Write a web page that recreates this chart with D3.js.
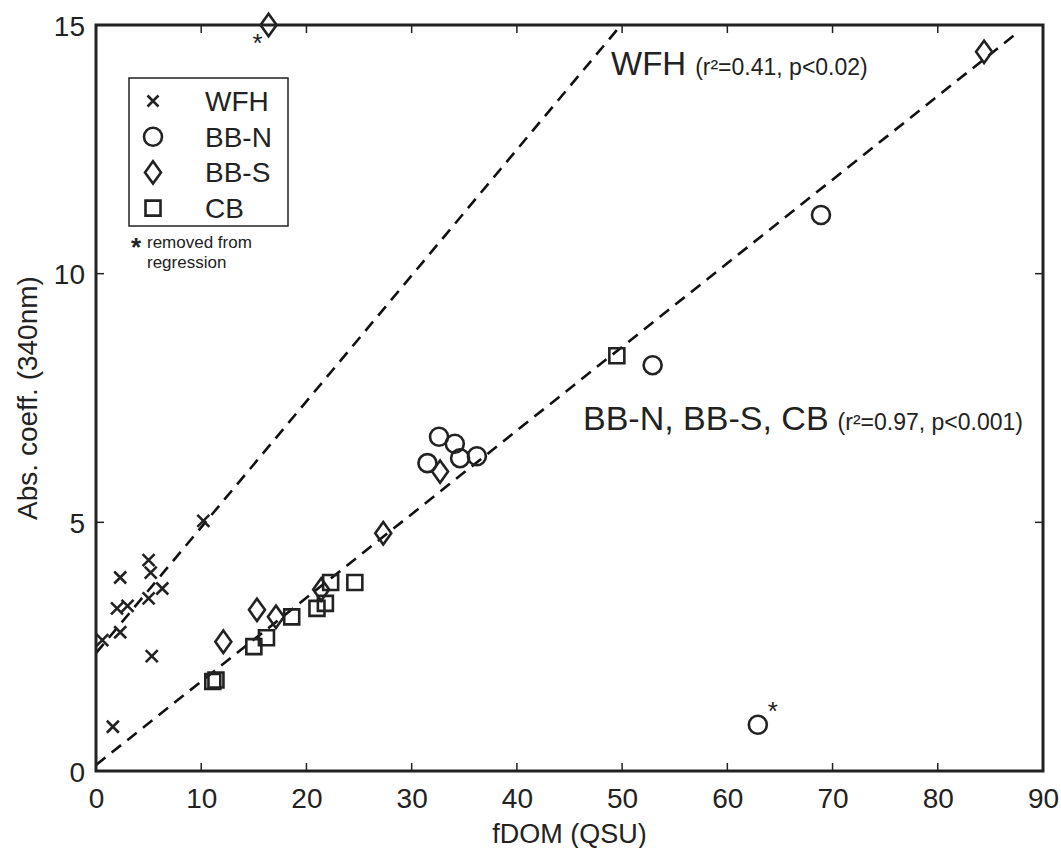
<!DOCTYPE html>
<html>
<head>
<meta charset="utf-8">
<script src="https://cdn.jsdelivr.net/npm/d3@7"></script>
<style>
  body { margin: 0; background: #fff; }
  svg { display: block; font-family: "Liberation Sans", Arial, Helvetica, sans-serif; }
</style>
</head>
<body>
<script>
// Данные (fDOM, Abs. coeff.)
const wfhX = [0.6, 1.6, 2.3, 2.3, 2.0, 3.0, 5.0, 5.2, 5.0, 6.3, 5.3, 10.2];
const wfhY = [2.63, 0.89, 2.79, 3.89, 3.27, 3.32, 4.24, 3.99, 3.47, 3.67, 2.31, 5.03];

const bbnX = [32.6, 34.1, 31.5, 34.6, 36.2, 52.9, 68.9, 62.9];
const bbnY = [6.72, 6.58, 6.19, 6.29, 6.33, 8.16, 11.18, 0.93];

const bbsX = [16.4, 84.4, 32.7, 27.3, 15.3, 17.1, 12.1, 21.4];
const bbsY = [15.0, 14.46, 6.02, 4.78, 3.24, 3.10, 2.60, 3.65];

const cbX = [49.5, 22.3, 24.6, 21.0, 21.8, 18.6, 16.2, 15.0, 11.4, 11.1];
const cbY = [8.35, 3.79, 3.79, 3.27, 3.37, 3.10, 2.68, 2.50, 1.83, 1.80];

// точки, исключённые из регрессии (помечены звёздочкой)
const removedX = [16.4, 62.9];
const removedY = [15.0, 0.93];

// линии регрессии: [x0, y0, x1, y1]
const wfhFit = [0, 2.37, 49.9, 15.0];
const bbFit = [0, 0.12, 87.3, 14.8];

const xTicks = [0, 10, 20, 30, 40, 50, 60, 70, 80, 90];
const yTicks = [0, 5, 10, 15];

const legendNames = ["WFH", "BB-N", "BB-S", "CB"];

const width = 1061;
const height = 848;
const margin = { top: 25, right: 18, bottom: 77, left: 96 };
const plotW = width - margin.left - margin.right;
const plotH = height - margin.top - margin.bottom;

const svg = d3.select("body").append("svg").attr("width", width).attr("height", height);

const x = d3.scaleLinear().domain([0, 90]).range([margin.left, margin.left + plotW]);
const y = d3.scaleLinear().domain([0, 15]).range([margin.top + plotH, margin.top]);

// формы маркеров
const shapes = {
  cross: (s) => `M${-s},${-s}L${s},${s}M${-s},${s}L${s},${-s}`,
  circle: (r) => `M${r},0A${r},${r} 0 1,1 ${-r},0A${r},${r} 0 1,1 ${r},0Z`,
  diamond: (s) => `M0,${-s * 1.4}L${s},0L0,${s * 1.4}L${-s},0Z`,
  square: (s) => `M${-s},${-s}H${s}V${s}H${-s}Z`,
};

const seriesList = [
  { xs: wfhX, ys: wfhY, path: shapes.cross(6) },
  { xs: bbnX, ys: bbnY, path: shapes.circle(9) },
  { xs: bbsX, ys: bbsY, path: shapes.diamond(8) },
  { xs: cbX, ys: cbY, path: shapes.square(7.5) },
];

svg.append("clipPath").attr("id", "clip")
  .append("rect")
  .attr("x", margin.left).attr("y", margin.top)
  .attr("width", plotW).attr("height", plotH);

// Линии регрессии (пунктир)
[wfhFit, bbFit].forEach((f) => {
  svg.append("line")
    .attr("clip-path", "url(#clip)")
    .attr("x1", x(f[0])).attr("y1", y(f[1]))
    .attr("x2", x(f[2])).attr("y2", y(f[3]))
    .attr("stroke", "#111")
    .attr("stroke-width", 2.6)
    .attr("stroke-dasharray", "12,8");
});

// Точки
seriesList.forEach((s) => {
  svg.append("g")
    .selectAll("path")
    .data(s.xs.map((v, i) => [v, s.ys[i]]))
    .enter()
    .append("path")
    .attr("transform", (d) => `translate(${x(d[0])},${y(d[1])})`)
    .attr("d", s.path)
    .attr("fill", "none")
    .attr("stroke", "#222")
    .attr("stroke-width", 2.6);
});

// звёздочки у исключённых точек
const starOffsets = [[-11, 27], [15, -5]];
svg.append("g")
  .selectAll("text")
  .data(removedX.map((v, i) => [v, removedY[i]]))
  .enter()
  .append("text")
  .attr("x", (d, i) => x(d[0]) + starOffsets[i][0])
  .attr("y", (d, i) => y(d[1]) + starOffsets[i][1])
  .attr("text-anchor", "middle")
  .style("font-size", "26px")
  .attr("fill", "#222")
  .text("*");

// Оси
const axisBottom = d3.axisBottom(x).tickValues(xTicks).tickSize(0).tickPadding(17);
const axisLeft = d3.axisLeft(y).tickValues(yTicks).tickSize(0).tickPadding(11);

const gx = svg.append("g").attr("transform", `translate(0,${margin.top + plotH})`).call(axisBottom);
const gy = svg.append("g").attr("transform", `translate(${margin.left},0)`).call(axisLeft);
[gx, gy].forEach((g) => {
  g.select(".domain").remove();
  g.selectAll("text").style("font-size", "28px").attr("fill", "#222");
});
gy.selectAll("text").attr("dy", "0.36em");

// внутренние засечки на всех сторонах
const tickLen = 8;
const ticks = svg.append("g").attr("stroke", "#222").attr("stroke-width", 1.5);
xTicks.slice(1, -1).forEach((t) => {
  ticks.append("line").attr("x1", x(t)).attr("x2", x(t))
    .attr("y1", y(0)).attr("y2", y(0) - tickLen);
  ticks.append("line").attr("x1", x(t)).attr("x2", x(t))
    .attr("y1", y(15)).attr("y2", y(15) + tickLen);
});
yTicks.slice(1, -1).forEach((t) => {
  ticks.append("line").attr("x1", x(0)).attr("x2", x(0) + tickLen)
    .attr("y1", y(t)).attr("y2", y(t));
  ticks.append("line").attr("x1", x(90)).attr("x2", x(90) - tickLen)
    .attr("y1", y(t)).attr("y2", y(t));
});

// рамка
svg.append("rect")
  .attr("x", margin.left).attr("y", margin.top)
  .attr("width", plotW).attr("height", plotH)
  .attr("fill", "none")
  .attr("stroke", "#222")
  .attr("stroke-width", 3);

// подписи осей
svg.append("text")
  .attr("x", x(45)).attr("y", 843)
  .attr("text-anchor", "middle")
  .style("font-size", "27px")
  .attr("fill", "#222")
  .text("fDOM (QSU)");

svg.append("text")
  .attr("transform", `translate(37,${y(7.5)}) rotate(-90)`)
  .attr("text-anchor", "middle")
  .style("font-size", "28px")
  .attr("fill", "#222")
  .text("Abs. coeff. (340nm)");

// Легенда
const legend = svg.append("g");
legend.append("rect")
  .attr("x", 129).attr("y", 78)
  .attr("width", 159).attr("height", 148)
  .attr("fill", "#fff")
  .attr("stroke", "#222")
  .attr("stroke-width", 1.5);

const legendShapes = [shapes.cross(5.5), shapes.circle(9), shapes.diamond(8), shapes.square(7.5)];
legendNames.forEach((name, i) => {
  const ly = 101 + i * 35.7;
  legend.append("path")
    .attr("transform", `translate(153,${ly})`)
    .attr("d", legendShapes[i])
    .attr("fill", "none")
    .attr("stroke", "#222")
    .attr("stroke-width", 2.6);
  legend.append("text")
    .attr("x", 205).attr("y", ly + 10)
    .style("font-size", "28px")
    .attr("fill", "#222")
    .text(name);
});

legend.append("text")
  .attr("x", 131).attr("y", 256)
  .style("font-size", "26px")
  .style("font-weight", "bold")
  .attr("fill", "#222")
  .text("*");
legend.append("text")
  .attr("x", 147).attr("y", 248)
  .style("font-size", "17px")
  .attr("fill", "#222")
  .text("removed from");
legend.append("text")
  .attr("x", 147).attr("y", 268)
  .style("font-size", "17px")
  .attr("fill", "#222")
  .text("regression");

// Подписи регрессий
function fitLabel(px, py, bigSize, big, small) {
  const t = svg.append("text").attr("x", px).attr("y", py).attr("fill", "#222");
  t.append("tspan").style("font-size", bigSize).text(big);
  t.append("tspan").attr("dx", 9).style("font-size", "23px").text(small);
}
fitLabel(611, 75, "33px", "WFH", "(r²=0.41, p<0.02)");
fitLabel(583, 430, "34px", "BB-N, BB-S, CB", "(r²=0.97, p<0.001)");
</script>
</body>
</html>
